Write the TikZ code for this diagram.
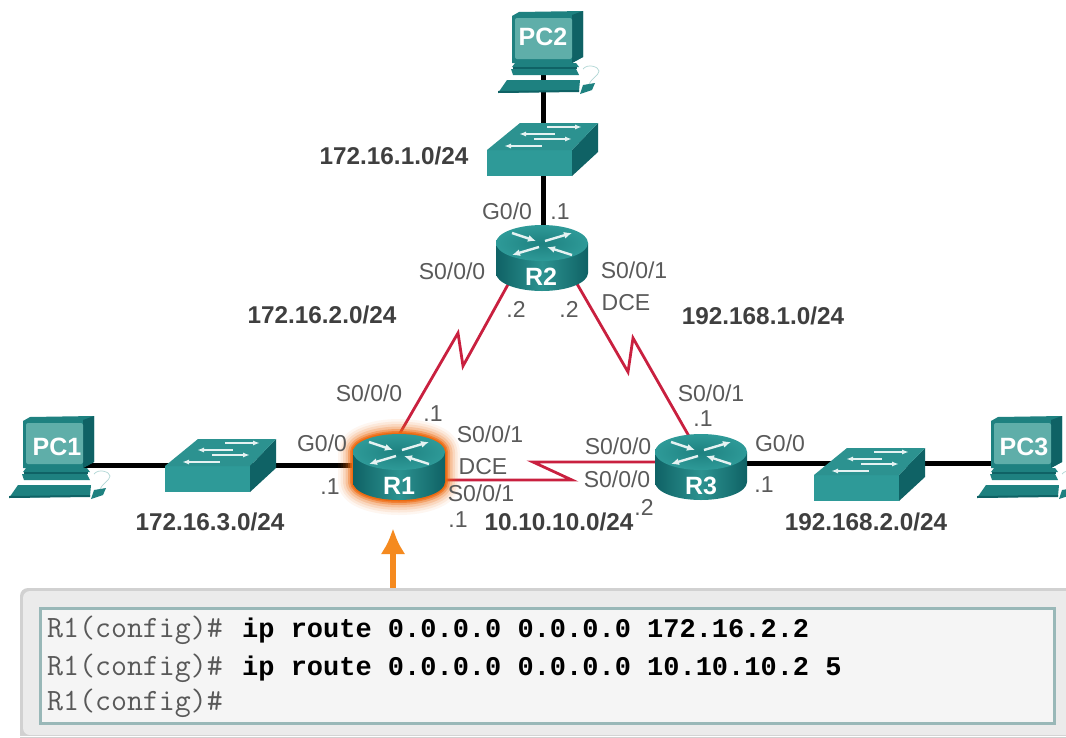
\documentclass[tikz,border=0pt]{standalone}
\usepackage{fontspec}
\setmainfont{Liberation Sans}
\newfontfamily\climono{Liberation Mono}
\newcommand\cmdstyle{\fontsize{27}{30}\climono\bfseries\selectfont\color{black}}
\usetikzlibrary{arrows.meta}
\definecolor{tealA}{HTML}{2C9290}
\definecolor{tealB}{HTML}{1E8180}
\definecolor{tealC}{HTML}{0F6265}
\definecolor{tealD}{HTML}{2E9A98}
\definecolor{tealS}{HTML}{5FAEA9}
\definecolor{serial}{HTML}{C9203F}
\definecolor{lbl}{HTML}{5A5A5A}
\definecolor{net}{HTML}{3F3F3F}
\definecolor{glow}{HTML}{EE6A10}
\definecolor{arrowor}{HTML}{F58A1F}
\tikzset{x=1pt,y=-1pt,
  anchorbox/.style={inner sep=0pt,minimum size=2pt},
  wire/.style={line width=5pt,black},
  serialline/.style={line width=2.8pt,serial,line join=miter,miter limit=12},
  port/.style={font=\fontsize{23}{25}\selectfont,text=lbl,inner sep=0pt},
  netlbl/.style={font=\fontsize{24.3}{26}\bfseries\selectfont,text=net,inner sep=0pt},
  devname/.style={font=\fontsize{25}{27}\bfseries\selectfont,text=white,inner sep=0pt},
  cli/.style={font=\fontsize{31}{32}\ttfamily\selectfont,text=black!65,inner sep=0pt,anchor=base west},
  arrowwhite/.style={white!90!teal,line width=2.4pt,-{Latex[length=8pt,width=7pt]}},
  swarrow/.style={white!90!teal,line width=1.6pt},
  router/.pic={
    \shade[left color=tealC,right color=tealC,middle color=tealA,draw=none]
      (-46,-15) -- (-46,15) arc[start angle=180,end angle=0,x radius=46,y radius=18] -- (46,-15) -- cycle;
    \shade[inner color=tealB,outer color=tealD,draw=none] (0,-15) ellipse[x radius=46,y radius=18];
    \draw[arrowwhite] (-30,-25) -- (-6,-17);
    \draw[arrowwhite] (3,-17) -- (30,-25);
    \draw[arrowwhite] (-3,-11) -- (-30,-3);
    \draw[arrowwhite] (30,-3) -- (5,-11);
  },
  switchbox/.pic={
    \fill[tealC] (30,1) -- (56,-26) -- (56,3) -- (30,27) -- cycle;
    \fill[tealD] (-55,1) -- (30,1) -- (30,27) -- (-55,27) -- cycle;
    \fill[tealA] (-55,1) -- (-22,-26) -- (56,-26) -- (30,1) -- cycle;
    \draw[swarrow,{Latex[length=7pt,width=5pt]}-] (-23,-15) -- (13,-15);
    \draw[swarrow,-{Latex[length=7pt,width=5pt]}] (5,-22) -- (40,-22);
    \draw[swarrow,-{Latex[length=7pt,width=5pt]}] (-8,-10) -- (30,-10);
    \draw[swarrow,{Latex[length=7pt,width=5pt]}-] (-38,-3) -- (0,-3);
  },
  computer/.pic={
    \fill[tealB] (-31,-31) -- (-24,-35) -- (40,-36) -- (40,10) -- (29,16) -- (-31,16) -- cycle;
    \fill[tealC] (29,-32) -- (40,-36) -- (40,10) -- (29,16) -- cycle;
    \fill[tealS,rounded corners=2pt] (-28,-29) rectangle (29,12);
    \fill[tealB] (-28,16) -- (33,16) -- (36,20) -- (-31,20) -- cycle;
    \fill[tealC] (-30,20) rectangle (34,22);
    \fill[tealB] (-32,22) -- (33,22) -- (36,28) -- (-30,28) -- cycle;
    \fill[tealB] (-36,33) -- (37,33) -- (36,44) -- (-45,46) -- cycle;
    \fill[tealC] (-45,44) -- (36,43) -- (36,45) -- (-45,46) -- cycle;
    \fill[tealB] (40,38) -- (52,36) -- (49,43) -- (37,47) -- cycle;
    \draw[tealS!50!white,line width=.7pt] (40,22) .. controls (45,16) and (56,20) .. (56,24) .. controls (56,28) and (48,32) .. (46,37);
  }
}
\begin{document}
\begin{tikzpicture}
\useasboundingbox (0,0) rectangle (1066,737);
\fill[white] (0,0) rectangle (1066,737);
% devices, named at the level of their wires
\node[anchorbox] (PC1) at (54,465) {};
\node[anchorbox] (PC2) at (543,47) {};
\node[anchorbox] (PC3) at (1022,463) {};
\node[anchorbox] (S1) at (220,465) {};
\node[anchorbox] (S2) at (543,149) {};
\node[anchorbox] (S3) at (869,463) {};
\node[anchorbox] (R1) at (399,465) {};
\node[anchorbox] (R2) at (543,258) {};
\node[anchorbox] (R3) at (701,463) {};
\coordinate (R1up) at (396,440);
\coordinate (R2left) at (516,270);
\coordinate (R2right) at (569,270);
\coordinate (R3up) at (694,445);
\coordinate (R3left) at (670,462);
\coordinate (R1right) at (430,480);
% wires
\draw[wire] (PC1) -- (S1);
\draw[wire] (S1) -- (R1);
\draw[wire] (PC2) -- (S2);
\draw[wire] (S2) -- (R2);
\draw[wire] (R3) -- (S3);
\draw[wire] (S3) -- (PC3);
\draw[serialline] (R1up) -- (458,333) -- (463,366) -- (R2left);
\draw[serialline] (R2right) -- (628,372) -- (633,338) -- (R3up);
\draw[serialline] (R3left) -- (533,462) -- (572,480) -- (R1right);
% glow round R1
\foreach \g/\o in {30/.06,25/.09,20/.13,15/.2,10/.35,6/.6,3/1}{
  \draw[glow,opacity=\o,line width=\g pt,line join=round]
    (353,452) arc[start angle=180,end angle=0,x radius=46,y radius=-18] -- (445,482)
    arc[start angle=0,end angle=-180,x radius=46,y radius=-18] -- cycle;
}
% device drawings
\pic at (54,452) {computer};
\pic at (PC2) {computer};
\pic at (1022,452) {computer};
\pic at (S1) {switchbox};
\pic at (542,149) {switchbox};
\pic at (869,474) {switchbox};
\pic at (399,467) {router};
\pic at (542,258) {router};
\pic at (701,467) {router};
\node[devname] at (57,447) {PC1};
\node[devname] at (543,37) {PC2};
\node[devname] at (1024,447) {PC3};
\node[devname] at (399,486) {R1};
\node[devname] at (541,277) {R2};
\node[devname] at (701,486) {R3};
% network labels
\node[netlbl] at (394,156) {172.16.1.0/24};
\node[netlbl] at (322,315) {172.16.2.0/24};
\node[netlbl] at (763,316) {192.168.1.0/24};
\node[netlbl] at (210,522) {172.16.3.0/24};
\node[netlbl] at (559,522) {10.10.10.0/24};
\node[netlbl] at (866,522) {192.168.2.0/24};
% port labels
\node[port] at (507,211) {G0/0};
\node[port] at (560,212) {.1};
\node[port] at (452,271) {S0/0/0};
\node[port] at (634,270) {S0/0/1};
\node[port] at (626,303) {DCE};
\node[port] at (516,309) {.2};
\node[port] at (569,309) {.2};
\node[port] at (369,393) {S0/0/0};
\node[port] at (433,414) {.1};
\node[port] at (322,443) {G0/0};
\node[port] at (330,487) {.1};
\node[port] at (490,434) {S0/0/1};
\node[port] at (483,467) {DCE};
\node[port] at (481,493) {S0/0/1};
\node[port] at (458,520) {.1};
\node[port] at (618,446) {S0/0/0};
\node[port] at (617,479) {S0/0/0};
\node[port] at (644,507) {.2};
\node[port] at (711,393) {S0/0/1};
\node[port] at (703,419) {.1};
\node[port] at (780,443) {G0/0};
\node[port] at (764,485) {.1};
% arrow
\node[anchorbox] (tip) at (393,527) {};
\coordinate (tail) at (393,590);
\draw[arrowor,line width=6pt,-{Latex[length=26pt,width=25pt]}] (tail) -- (tip);
% panel
\fill[black!18,rounded corners=8pt] (20,588) -- (20,745) -- (1085,745) -- (1085,588) -- cycle;
\fill[black!8,rounded corners=7pt] (23,591) -- (23,735) -- (1085,735) -- (1085,591) -- cycle;
\fill[white] (0,736) rectangle (1066,737);
\draw[fill=black!4,draw=black!40!teal!40!white,line width=3pt] (40,608) rectangle (1054,723);
\node[cli] (l1) at (47,637) {\makebox[195pt][l]{R1(config)\#}{\cmdstyle ip route 0.0.0.0 0.0.0.0 172.16.2.2}};
\node[cli] (l2) at (47,675) {\makebox[195pt][l]{R1(config)\#}{\cmdstyle ip route 0.0.0.0 0.0.0.0 10.10.10.2 5}};
\node[cli] (l3) at (47,710) {R1(config)\#};
\end{tikzpicture}
\end{document}
